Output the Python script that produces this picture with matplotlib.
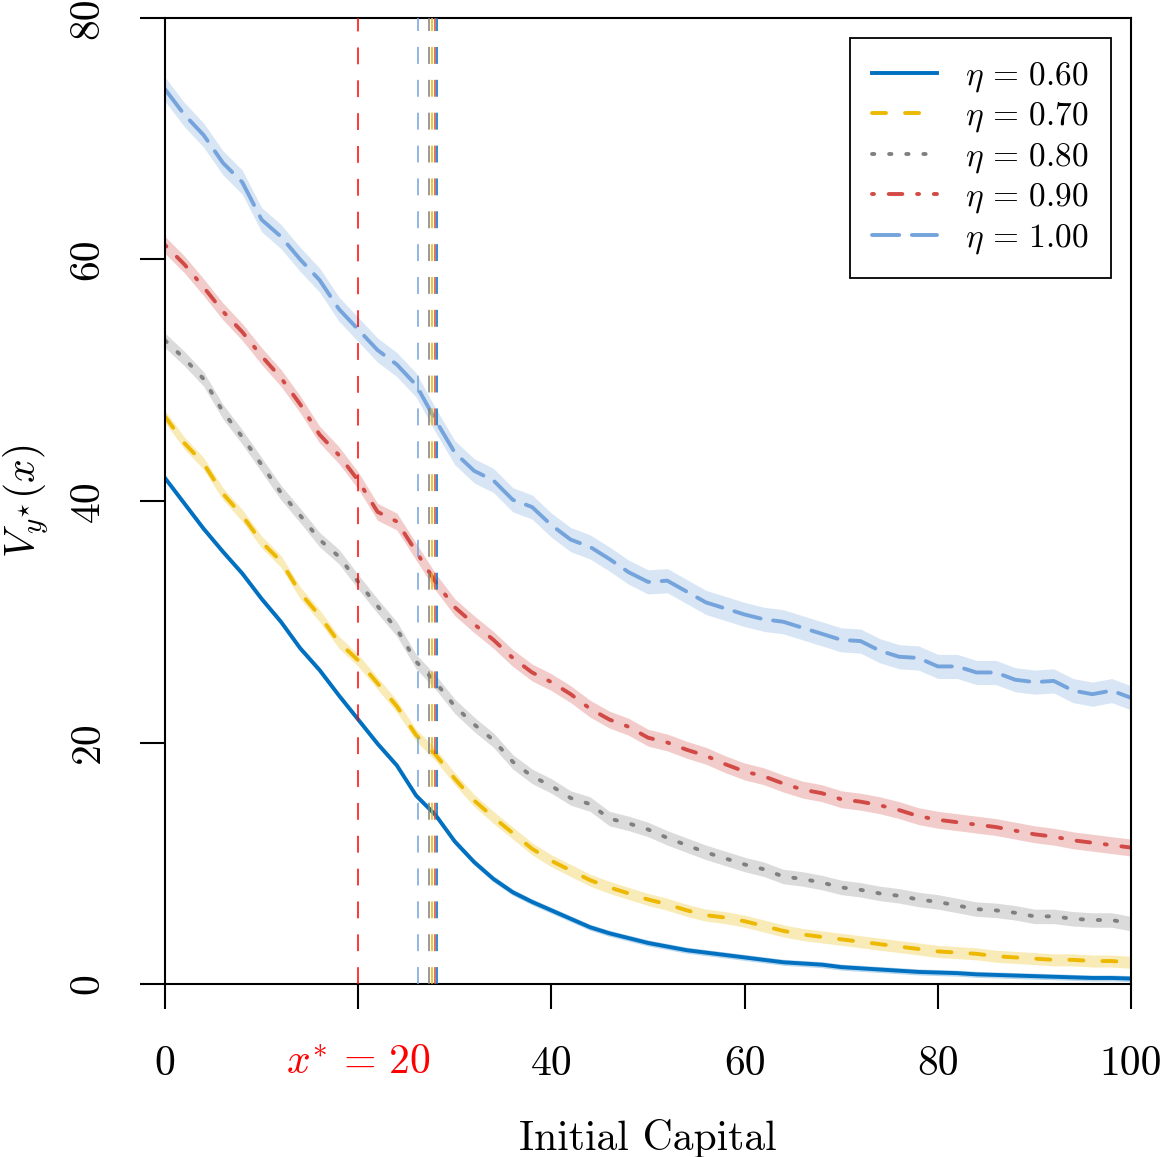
import matplotlib
matplotlib.use("Agg")
import matplotlib.pyplot as plt
import numpy as np

plt.rcParams['font.family'] = 'serif'
plt.rcParams['font.serif'] = ['cmr10', 'DejaVu Serif']
plt.rcParams['mathtext.fontset'] = 'cm'
plt.rcParams['axes.unicode_minus'] = False

# initial capital grid
capital = list(range(0, 101, 2))

# estimated value for each eta
v_060 = [41.9, 39.8, 37.7, 35.8, 34.0, 31.9, 30.0, 27.8, 26.0, 23.9,
         21.9, 19.9, 18.1, 15.6, 14.0, 11.8, 10.1, 8.7, 7.6, 6.8,
         6.1, 5.4, 4.7, 4.2, 3.8, 3.4, 3.1, 2.8, 2.6, 2.4,
         2.2, 2.0, 1.8, 1.7, 1.6, 1.4, 1.3, 1.2, 1.1, 1.0,
         0.95, 0.9, 0.8, 0.75, 0.7, 0.65, 0.6, 0.55, 0.5, 0.5, 0.45]
v_070 = [47.0, 44.8, 43.1, 40.6, 38.8, 36.6, 35.0, 32.4, 30.5, 28.3,
         26.8, 24.9, 23.0, 20.6, 19.0, 17.0, 15.2, 13.8, 12.5, 11.2,
         10.2, 9.4, 8.6, 8.0, 7.5, 7.0, 6.6, 6.1, 5.7, 5.5,
         5.2, 4.8, 4.4, 4.1, 3.9, 3.7, 3.5, 3.3, 3.1, 2.9,
         2.7, 2.6, 2.5, 2.3, 2.2, 2.1, 2.0, 2.0, 1.9, 1.9, 1.8]
v_080 = [53.3, 51.8, 50.1, 47.4, 45.3, 43.0, 40.7, 38.8, 36.8, 35.4,
         33.3, 31.3, 29.4, 26.7, 25.0, 23.0, 21.5, 20.2, 18.4, 17.2,
         16.4, 15.4, 14.9, 13.7, 13.3, 12.8, 12.1, 11.5, 10.9, 10.4,
         9.9, 9.5, 8.9, 8.7, 8.4, 8.0, 7.8, 7.5, 7.3, 7.0,
         6.8, 6.5, 6.2, 6.1, 5.9, 5.6, 5.6, 5.4, 5.3, 5.3, 5.0]
v_090 = [61.2, 59.6, 57.7, 55.7, 54.0, 52.0, 50.2, 48.0, 45.5, 43.8,
         41.7, 39.1, 38.3, 35.8, 33.3, 31.2, 29.8, 28.5, 27.0, 25.8,
         25.0, 24.0, 22.8, 21.9, 21.3, 20.4, 20.0, 19.4, 18.9, 18.2,
         17.6, 17.2, 16.6, 16.1, 15.8, 15.3, 15.1, 14.8, 14.4, 13.9,
         13.6, 13.4, 13.2, 13.0, 12.7, 12.4, 12.2, 11.9, 11.7, 11.5, 11.3]
v_100 = [74.1, 72.0, 70.3, 68.0, 66.4, 63.3, 61.9, 60.0, 58.3, 55.9,
         54.2, 52.5, 51.3, 49.6, 46.7, 44.0, 42.5, 41.7, 40.1, 39.5,
         38.0, 36.8, 36.2, 35.2, 34.1, 33.3, 33.4, 32.5, 31.6, 31.1,
         30.6, 30.2, 30.0, 29.5, 29.0, 28.5, 28.4, 27.6, 27.1, 27.0,
         26.3, 26.3, 25.8, 25.8, 25.2, 25.0, 25.1, 24.3, 24.0, 24.3, 23.7]

# half width of the shaded band per series
spread = [0.25, 0.5, 0.6, 0.7, 1.0]
# estimated optimal capital per series, and the threshold x*
x_opt = [28.15, 27.65, 27.3, 28.0, 26.15]
x_star = 20

etas = ['0.60', '0.70', '0.80', '0.90', '1.00']
values = [v_060, v_070, v_080, v_090, v_100]
colors = ['#0070C0', '#EDB800', '#808080', '#D24A45', '#75A4DC']
styles = ['-', (0, (3.6, 4.9)), (0, (0.6, 3.8)), (0, (0.5, 3.8, 3.5, 3.8)), (0, (7, 3.25))]

fig = plt.figure(figsize=(11.61, 11.57), dpi=100)
ax = fig.add_axes([165 / 1161, 1 - 984 / 1157, 966 / 1161, 966 / 1157])

x = np.array(capital)
for eta, v, s, c, ls in zip(etas, values, spread, colors, styles):
    v = np.array(v)
    ax.fill_between(x, v - s, v + s, color=c, alpha=0.28, linewidth=0, zorder=1)
    ax.plot(x, v, color=c, linestyle=ls, linewidth=2.8, dash_capstyle='round',
            label=r'$\eta\,=\,' + eta + '$', zorder=2)

# vertical markers
ax.axvline(x_star, color='red', linewidth=1.1, linestyle=(0, (11, 10.5)), zorder=3)
for xo, c in zip(x_opt, colors):
    ax.axvline(xo, color=c, linewidth=1.4, linestyle=(0, (8.7, 8.2)), alpha=0.8, zorder=3)

ax.set_xlim(0, 100)
ax.set_ylim(0, 80)
ax.set_xticks([0, 20, 40, 60, 80, 100])
ax.set_xticklabels(['0', r'$x^{*}\,=\,20$', '40', '60', '80', '100'])
ax.get_xticklabels()[1].set_color('red')
ax.set_yticks([0, 20, 40, 60, 80])
ax.set_yticklabels(['0', '20', '40', '60', '80'], rotation=90, va='center')

ax.tick_params(axis='both', direction='out', length=18, width=1.5, labelsize=30)
ax.tick_params(axis='x', pad=26)
ax.tick_params(axis='y', pad=24)
for sp in ax.spines.values():
    sp.set_linewidth(1.5)

ax.set_xlabel('Initial Capital', fontsize=30)
ax.xaxis.set_label_coords(0.5, -0.14)
ax.set_ylabel(r'$V_{y^{\star}}(x)$', fontsize=30)
ax.yaxis.set_label_coords(-0.118, 0.5)

leg = ax.legend(loc='upper right', bbox_to_anchor=(0.979, 0.979), borderaxespad=0,
                fontsize=24, fancybox=False, edgecolor='black', framealpha=1,
                handlelength=1.95, handletextpad=0.85, labelspacing=0.2, borderpad=0.65)
leg.get_frame().set_linewidth(1.3)

plt.savefig('out.png', dpi=100)
